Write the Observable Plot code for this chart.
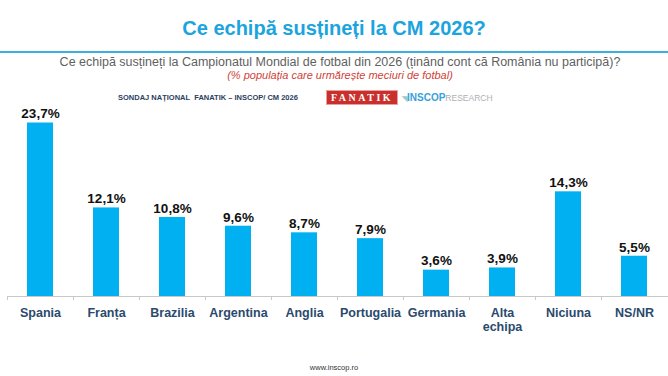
<!DOCTYPE html>
<html><head><meta charset="utf-8">
<script src="https://cdn.jsdelivr.net/npm/d3@7"></script>
<script src="https://cdn.jsdelivr.net/npm/@observablehq/plot@0.6"></script>
<style>
body{margin:0;width:668px;height:376px;position:relative;overflow:hidden;background:#fff;font-family:"Liberation Sans",Arial,sans-serif}
.abs{position:absolute;white-space:nowrap}
</style></head><body>
<div class="abs" style="left:0;width:668px;top:17px;text-align:center;font-size:20px;font-weight:bold;color:#1BA4DE">Ce echipă susțineți la CM 2026?</div>
<div class="abs" style="left:0;top:51px;width:668px;height:2px;background:#3AAFE0"></div>
<div class="abs" style="left:6px;width:668px;top:55px;text-align:center;font-size:12.5px;color:#5F5F5F">Ce echipă susțineți la Campionatul Mondial de fotbal din 2026 (ținând cont că România nu participă)?</div>
<div class="abs" style="left:6px;width:668px;top:69px;text-align:center;font-size:11px;font-style:italic;color:#CF3F38">(% populația care urmărește meciuri de fotbal)</div>
<div class="abs" style="left:118px;top:93px;font-size:7.5px;font-weight:bold;color:#2B3E60">SONDAJ NAȚIONAL&nbsp; FANATIK – INSCOP/ CM 2026</div>
<div class="abs" style="left:326px;top:90px;width:70px;height:13px;background:#C9302C;border:1px solid #E8A0A0;color:#fff;font-family:'Liberation Serif',serif;font-weight:bold;font-size:10px;letter-spacing:2.5px;text-align:center;line-height:13px">FANATIK</div>
<div class="abs" style="left:402px;top:92px;font-size:10px;font-weight:bold;color:#3AA0DA"><span style="color:#9CC;font-size:7px">◥</span>INSCOP<span style="font-weight:normal;color:#B0B0B0;font-size:8.5px">RESEARCH</span></div>
<div id="chart" class="abs" style="left:0;top:100px"></div>
<div class="abs" style="left:0;width:668px;top:363px;text-align:center;font-size:7.5px;color:#333">www.inscop.ro</div>
<script>
const categories = ["Spania","Franța","Brazilia","Argentina","Anglia","Portugalia","Germania","Alta echipa","Niciuna","NS/NR"];
const tickLabels = ["Spania","Franța","Brazilia","Argentina","Anglia","Portugalia","Germania","Alta\nechipa","Niciuna","NS/NR"];
const values = [23.7,12.1,10.8,9.6,8.7,7.9,3.6,3.9,14.3,5.5];
const valueLabels = ["23,7%","12,1%","10,8%","9,6%","8,7%","7,9%","3,6%","3,9%","14,3%","5,5%"];

const data = categories.map((c, i) => ({cat: c, value: values[i], label: valueLabels[i], tick: tickLabels[i]}));
const tickMap = new Map(data.map(d => [d.cat, d.tick]));

const W = 668, H = 276, ML = 7, MR = 0;
const band = (W - ML - MR) / categories.length;

const chart = Plot.plot({
  width: W, height: H,
  marginLeft: ML, marginRight: MR, marginTop: 13, marginBottom: 80,
  style: {fontFamily: "'Liberation Sans', Arial, sans-serif", background: "transparent", overflow: "visible"},
  x: {domain: categories, paddingInner: 0.6, paddingOuter: 0.3, label: null},
  y: {domain: [0, 25], axis: null},
  marks: [
    Plot.barY(data, {x: "cat", y: "value", fill: "#00B0F0"}),
    Plot.ruleY([0], {stroke: "#C8C8C8", strokeWidth: 1}),
    Plot.axisX({tickSize: 4, tickFormat: () => "", dx: -band / 2, stroke: "#C8C8C8", label: null}),
    Plot.axisX({tickSize: 0, tickPadding: 10, tickFormat: d => tickMap.get(d), fontSize: 12.5, fontWeight: "bold", fill: "#2A4A6E", lineHeight: 1.15, label: null}),
    Plot.text(data, {x: "cat", y: "value", text: "label", dy: -9, fontSize: 13.5, fontWeight: "bold", fill: "#111"})
  ]
});
document.getElementById("chart").appendChild(chart);
</script>
</body></html>
